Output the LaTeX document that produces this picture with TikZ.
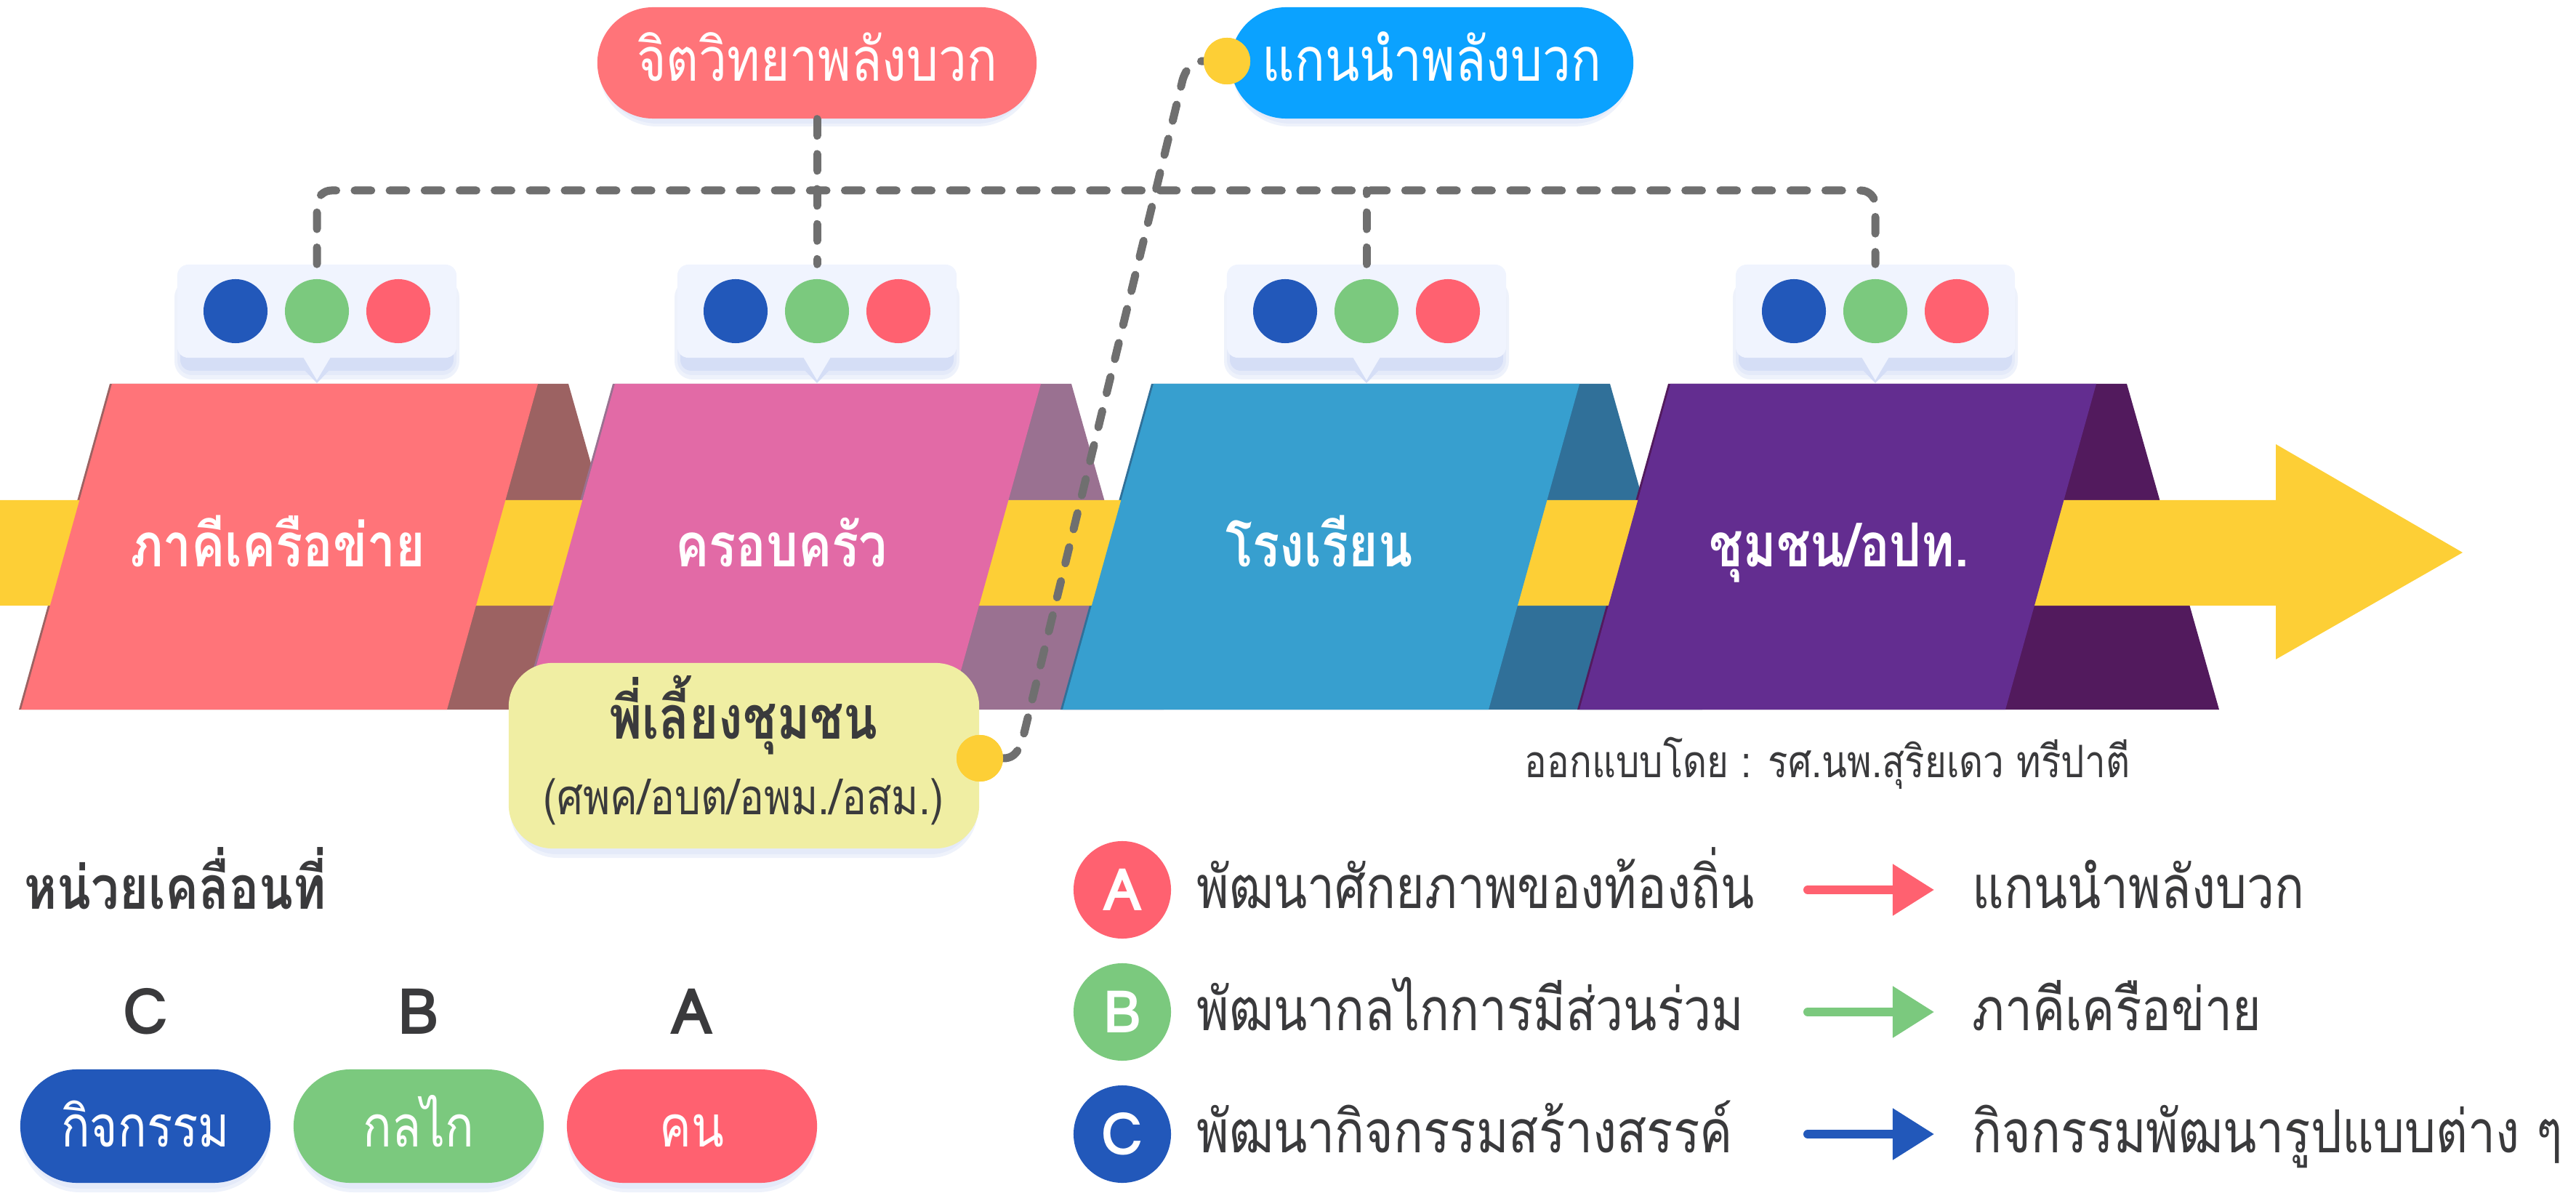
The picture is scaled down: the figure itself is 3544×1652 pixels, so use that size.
\documentclass[tikz,border=0pt]{standalone}
\usepackage{fontspec}
\setmainfont[Script=Thai,FakeStretch=0.83]{Loma}
\newfontfamily\latinf{Loma}
\usetikzlibrary{arrows.meta,calc}
\definecolor{coral}{HTML}{FF7479}
\definecolor{pinkb}{HTML}{E26AA6}
\definecolor{blueb}{HTML}{379FCF}
\definecolor{purpb}{HTML}{632D90}
\definecolor{coralsh}{HTML}{9C6262}
\definecolor{pinksh}{HTML}{9A7191}
\definecolor{bluesh}{HTML}{307099}
\definecolor{purpsh}{HTML}{521A5D}
\definecolor{band}{HTML}{FDCF36}
\definecolor{skyb}{HTML}{0BA2FF}
\definecolor{dblue}{HTML}{2258BA}
\definecolor{dgreen}{HTML}{7BC97E}
\definecolor{dred}{HTML}{FF6170}
\definecolor{bubfill}{HTML}{F0F4FE}
\definecolor{bubsh}{HTML}{D5DEF6}
\definecolor{ybox}{HTML}{F0EEA3}
\definecolor{dashgrey}{HTML}{6F6F6F}
\definecolor{darktxt}{HTML}{3A3A3C}
\newcommand\fs[1]{\fontsize{#1}{#1}\selectfont}
\begin{document}
\begin{tikzpicture}[x=0.01cm,y=-0.01cm,
  blocklbl/.style={text=white,font=\bfseries\fs{23.7pt},inner sep=0,anchor=base},
  pilltxt/.style={text=white,font=\fs{23.7pt},inner sep=0,anchor=base},
  stadium/.style={rectangle,inner sep=0,minimum height=1.53cm,rounded corners=0.765cm},
  bubblebox/.style={rectangle,fill=bubfill,inner sep=0,minimum width=3.84cm,minimum height=1.28cm,rounded corners=0.15cm},
  dotc/.style={circle,inner sep=0,minimum size=0.88cm},
  ydot/.style={circle,fill=band,inner sep=0,minimum size=0.64cm},
  dashline/.style={draw=dashgrey,line width=0.11cm,line cap=round,dash pattern=on 6.5pt off 7.2pt},
  legtxt/.style={text=darktxt,font=\fs{23.2pt},inner sep=0,anchor=base west},
  legpill/.style={rectangle,inner sep=0,minimum width=3.44cm,minimum height=1.56cm,rounded corners=0.78cm},
  letcirc/.style={circle,inner sep=0,minimum size=1.34cm,text=white,font=\latinf\bfseries\fs{23pt}},
  abc/.style={text=darktxt,font=\latinf\bfseries\fs{25pt},inner sep=0,anchor=base},
  legarrow/.style={line width=0.12cm,line cap=round,-{Triangle[length=0.57cm,width=0.68cm]}},
  softsh/.style={fill=bubsh,opacity=0.4}
]
\useasboundingbox (0,0) rectangle (3544,1652);

% ---- block shadows
\fill[coralsh] (151,528) -- (782,528) -- (909,976) -- (26,976) -- cycle;
\fill[pinksh] (843,528) -- (1474,528) -- (1601,976) -- (718,976) -- cycle;
\fill[bluesh] (1584,528) -- (2215,528) -- (2342,976) -- (1459,976) -- cycle;
\fill[purpsh] (2295,528) -- (2926,528) -- (3053,976) -- (2170,976) -- cycle;

% ---- yellow band arrow
\fill[band] (0,688) -- (3131,688) -- (3131,611) -- (3388,760) -- (3131,907) -- (3131,833) -- (0,833) -- cycle;

% ---- blocks
\fill[coral] (154,528) -- (740,528) -- (615,976) -- (29,976) -- cycle;
\fill[pinkb] (846,528) -- (1432,528) -- (1307,976) -- (721,976) -- cycle;
\fill[blueb] (1587,528) -- (2173,528) -- (2048,976) -- (1462,976) -- cycle;
\fill[purpb] (2298,528) -- (2884,528) -- (2759,976) -- (2173,976) -- cycle;

\node[blocklbl] (l1) at (382,779) {ภาคีเครือข่าย};
\node[blocklbl] (l2) at (1075,779) {ครอบครัว};
\node[blocklbl] (l3) at (1815,779) {โรงเรียน};
\node[blocklbl] (l4) at (2530,779) {ชุมชน/อปท.};

% ---- bubbles
\foreach \c/\n in {436/b1,1124/b2,1880/b3,2580/b4}{
  \fill[softsh,rounded corners=0.25cm] (\c-196,384) rectangle (\c+196,522);
  \fill[softsh,rounded corners=0.2cm] (\c-192,388) rectangle (\c+192,516);
  \fill[bubsh,rounded corners=0.15cm] (\c-188,392) rectangle (\c+188,510);
  \fill[bubsh] (\c-26,500) -- (\c+26,500) -- (\c,527) -- cycle;
  \node[bubblebox] (\n) at (\c,428) {};
  \fill[bubfill] (\c-19,491) -- (\c+19,491) -- (\c,523) -- cycle;
  \node[dotc,fill=dblue] (\n a) at (\c-112,428) {};
  \node[dotc,fill=dgreen] (\n b) at (\c,428) {};
  \node[dotc,fill=dred] (\n c) at (\c+112,428) {};
}

% ---- top pills
\fill[softsh,rounded corners=0.8cm] (824,16) rectangle (1424,174);
\fill[softsh,rounded corners=0.765cm] (828,18) rectangle (1420,170);
\node[stadium,fill=coral,minimum width=6.04cm] (p1) at (1124,86.5) {};
\node[pilltxt] (p1t) at (1124,112) {จิตวิทยาพลังบวก};
\fill[softsh,rounded corners=0.8cm] (1695,16) rectangle (2245,174);
\fill[softsh,rounded corners=0.765cm] (1699,18) rectangle (2241,170);
\node[stadium,fill=skyb,minimum width=5.54cm] (p2) at (1970,86.5) {};
\node[pilltxt] (p2t) at (1970,112) {แกนนำพลังบวก};

% ---- dashed connectors
\coordinate (hl) at (0,262);
\draw[dashline,rounded corners=0.2cm] (b1.north) -- (b1.north |- hl) -- (b4.north |- hl) -- (b4.north);
\draw[dashline] (p1.south) -- (b2.north);
\draw[dashline] (b3.north) -- (b3.north |- hl);

% ---- yellow box
\fill[softsh,rounded corners=0.65cm] (702,918) rectangle (1345,1180);
\fill[softsh,rounded corners=0.6cm] (706,922) rectangle (1341,1175);
\node[rectangle,fill=ybox,inner sep=0,minimum width=6.47cm,minimum height=2.55cm,rounded corners=0.6cm] (yb) at (1023.5,1039.5) {};
\node[text=darktxt,font=\bfseries\fs{23.5pt},inner sep=0,anchor=base] (yb1) at (1023,1016) {พี่เลี้ยงชุมชน};
\node[text=darktxt,font=\fs{19.4pt},inner sep=0,anchor=base] (yb2) at (1023,1120) {(ศพค/อบต/อพม./อสม.)};

\node[ydot] (yd1) at (1348,1043) {};
\node[ydot] (yd2) at (1688,84) {};
\draw[dashline] (yd1.east) .. controls (1400,1043) and (1405,1025) .. (1411,1000) -- (1627,110) .. controls (1633,90) and (1645,84) .. (yd2.west);
\node[ydot] at (yd1) {};
\node[ydot] at (yd2) {};

% ---- credit
\node[text=darktxt,font=\fs{17.5pt},inner sep=0,anchor=base] (cr) at (2514,1069) {ออกแบบโดย : รศ.นพ.สุริยเดว ทรีปาตี};

% ---- left legend
\node[text=darktxt,font=\bfseries\fs{23.5pt},inner sep=0,anchor=base west] (mu) at (33,1250) {หน่วยเคลื่อนที่};
\node[abc] (lc) at (200,1422) {C};
\node[abc] (lb) at (576,1422) {B};
\node[abc] (la) at (952,1422) {A};
\foreach \c in {200,576,952}{
  \fill[softsh,rounded corners=0.82cm] (\c-172,1476) rectangle (\c+172,1640);
  \fill[softsh,rounded corners=0.78cm] (\c-168,1479) rectangle (\c+168,1635);}
\node[legpill,fill=dblue] (pc) at (200,1549) {};
\node[legpill,fill=dgreen] (pb) at (576,1549) {};
\node[legpill,fill=dred] (pa) at (952,1549) {};
\node[pilltxt,font=\fs{22.5pt}] (pct) at (200,1577) {กิจกรรม};
\node[pilltxt,font=\fs{22.5pt}] (pbt) at (576,1577) {กลไก};
\node[pilltxt,font=\fs{22.5pt}] (pat) at (952,1577) {คน};

% ---- right legend
\node[letcirc,fill=dred] (cA) at (1544,1224) {A};
\node[letcirc,fill=dgreen] (cB) at (1544,1392) {B};
\node[letcirc,fill=dblue] (cC) at (1544,1560) {C};
\node[legtxt] (tA) at (1646,1249) {พัฒนาศักยภาพของท้องถิ่น};
\node[legtxt] (tB) at (1646,1417) {พัฒนากลไกการมีส่วนร่วม};
\node[legtxt] (tC) at (1646,1585) {พัฒนากิจกรรมสร้างสรรค์};
\coordinate (aA1) at (2487,1224); \coordinate (aA2) at (2661,1224);
\coordinate (aB1) at (2487,1392); \coordinate (aB2) at (2661,1392);
\coordinate (aC1) at (2487,1560); \coordinate (aC2) at (2661,1560);
\draw[legarrow,dred] (aA1) -- (aA2);
\draw[legarrow,dgreen] (aB1) -- (aB2);
\draw[legarrow,dblue] (aC1) -- (aC2);
\node[legtxt] (rA) at (2713,1249) {แกนนำพลังบวก};
\node[legtxt] (rB) at (2713,1417) {ภาคีเครือข่าย};
\node[legtxt] (rC) at (2713,1585) {กิจกรรมพัฒนารูปแบบต่าง ๆ};
\end{tikzpicture}
\end{document}
